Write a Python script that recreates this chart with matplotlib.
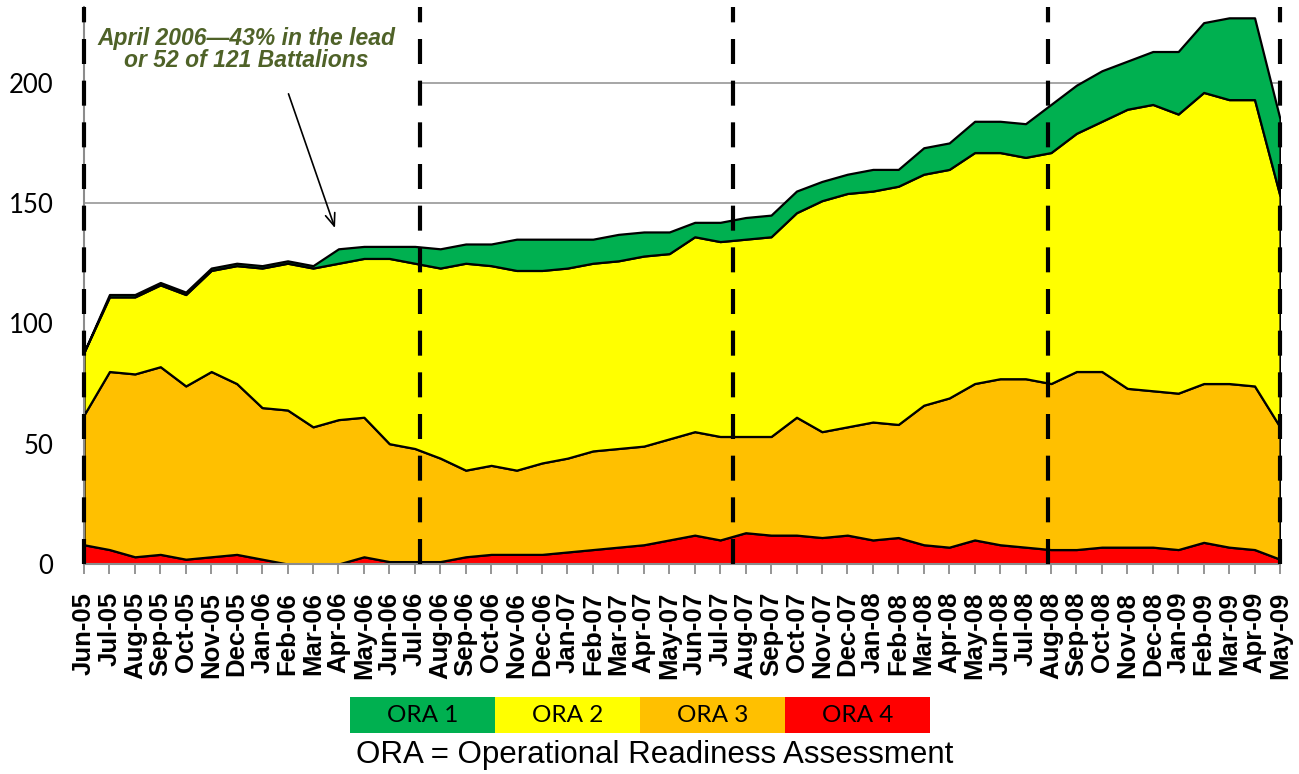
import matplotlib
matplotlib.use("Agg")
import matplotlib.pyplot as plt
from matplotlib.patches import Rectangle
import numpy as np

months = ["Jun-05", "Jul-05", "Aug-05", "Sep-05", "Oct-05", "Nov-05", "Dec-05",
          "Jan-06", "Feb-06", "Mar-06", "Apr-06", "May-06", "Jun-06", "Jul-06",
          "Aug-06", "Sep-06", "Oct-06", "Nov-06", "Dec-06", "Jan-07", "Feb-07",
          "Mar-07", "Apr-07", "May-07", "Jun-07", "Jul-07", "Aug-07", "Sep-07",
          "Oct-07", "Nov-07", "Dec-07", "Jan-08", "Feb-08", "Mar-08", "Apr-08",
          "May-08", "Jun-08", "Jul-08", "Aug-08", "Sep-08", "Oct-08", "Nov-08",
          "Dec-08", "Jan-09", "Feb-09", "Mar-09", "Apr-09", "May-09"]

ora4 = [8, 6, 3, 4, 2, 3, 4, 2, 0, 0, 0, 3, 1, 1, 1, 3, 4, 4, 4, 5, 6, 7, 8, 10,
        12, 10, 13, 12, 12, 11, 12, 10, 11, 8, 7, 10, 8, 7, 6, 6, 7, 7, 7, 6, 9, 7, 6, 2]
ora3 = [54, 74, 76, 78, 72, 77, 71, 63, 64, 57, 60, 58, 49, 47, 43, 36, 37, 35, 38, 39,
        41, 41, 41, 42, 43, 43, 40, 41, 49, 44, 45, 49, 47, 58, 62, 65, 69, 70, 69, 74,
        73, 66, 65, 65, 66, 68, 68, 55]
ora2 = [26, 31, 32, 34, 38, 42, 49, 58, 61, 66, 65, 66, 77, 77, 79, 86, 83, 83, 80, 79,
        78, 78, 79, 77, 81, 81, 82, 83, 85, 96, 97, 96, 99, 96, 95, 96, 94, 92, 96, 99,
        104, 116, 119, 116, 121, 118, 119, 96]
ora1 = [0, 1, 1, 1, 1, 1, 1, 1, 1, 1, 6, 5, 5, 7, 8, 8, 9, 13, 13, 12, 10, 11, 10, 9,
        6, 8, 9, 9, 9, 8, 8, 9, 7, 11, 11, 13, 13, 14, 20, 20, 21, 20, 22, 26, 29, 34, 34, 32]

y_ticks = [0, 50, 100, 150, 200]
phase_lines = [0, 13.2, 25.5, 37.9, 47]
legend_labels = ["ORA 1", "ORA 2", "ORA 3", "ORA 4"]
colors = ["#00B050", "#FFFF00", "#FFC000", "#FF0000"]

W, H = 1299, 774
fig = plt.figure(figsize=(W / 100, H / 100), dpi=100)
ax = fig.add_axes([84 / W, 1 - 564 / H, (1280 - 84) / W, (564 - 7) / H])

x = np.arange(len(months))
ax.stackplot(x, ora4, ora3, ora2, ora1,
             colors=[colors[3], colors[2], colors[1], colors[0]],
             edgecolor="black", linewidth=1.6, zorder=2)

ax.set_xlim(0, len(months) - 1)
ax.set_ylim(0, 231.5)

# gridlines
ax.hlines(150, 0, len(months) - 1, color="#A6A6A6", lw=1.4, zorder=1)
ax.hlines(200, phase_lines[1], len(months) - 1, color="#A6A6A6", lw=1.4, zorder=1)

# dashed phase lines
for px in phase_lines:
    ax.axvline(px, color="black", lw=3.0, linestyle=(0, (6.0, 4.0)),
               zorder=5, clip_on=False)

for s in ["top", "right"]:
    ax.spines[s].set_visible(False)
for s in ["left", "bottom"]:
    ax.spines[s].set_color("#8C8C8C")
    ax.spines[s].set_linewidth(1.5)
ax.spines["bottom"].set_zorder(4)

ax.set_xticks(x)
ax.set_xticklabels(months, rotation=90, fontfamily="Liberation Sans",
                   fontweight="bold", fontsize=18.5)
ax.tick_params(axis="x", length=7, width=1.3, color="#8C8C8C", pad=13)
ax.set_yticks(y_ticks)
ax.set_yticklabels([str(v) for v in y_ticks], fontfamily="Lato", fontsize=18.5)
ax.tick_params(axis="y", length=0, pad=22)

# annotation
ann_color = "#4F6228"
ax.text(6.37, 218.5, "April 2006\u201443% in the lead", ha="center", va="center",
        fontfamily="Liberation Sans", fontweight="bold", fontstyle="italic",
        fontsize=16.5, color=ann_color)
ax.text(6.37, 209.3, "or 52 of 121 Battalions", ha="center", va="center",
        fontfamily="Liberation Sans", fontweight="bold", fontstyle="italic",
        fontsize=16.5, color=ann_color)
ax.annotate("", xy=(9.9, 138.5), xytext=(8.0, 196.5),
            arrowprops=dict(arrowstyle="->,head_length=0.9,head_width=0.35",
                            color="black", lw=1.2), zorder=6)

# legend boxes
x0, bw = 350, 145
for i, (lab, c) in enumerate(zip(legend_labels, colors)):
    fig.add_artist(Rectangle(((x0 + i * bw) / W, 1 - 733 / H), bw / W, 36 / H,
                             transform=fig.transFigure, facecolor=c,
                             edgecolor="none"))
    fig.text((x0 + i * bw + bw / 2) / W, 1 - 715 / H, lab, ha="center", va="center",
             fontfamily="Lato", fontsize=17.5, color="black")

fig.text(655 / W, 1 - 755 / H, "ORA = Operational Readiness Assessment",
         ha="center", va="center", fontfamily="Liberation Sans", fontsize=22.5,
         color="black")

fig.savefig("out.png", dpi=100)
